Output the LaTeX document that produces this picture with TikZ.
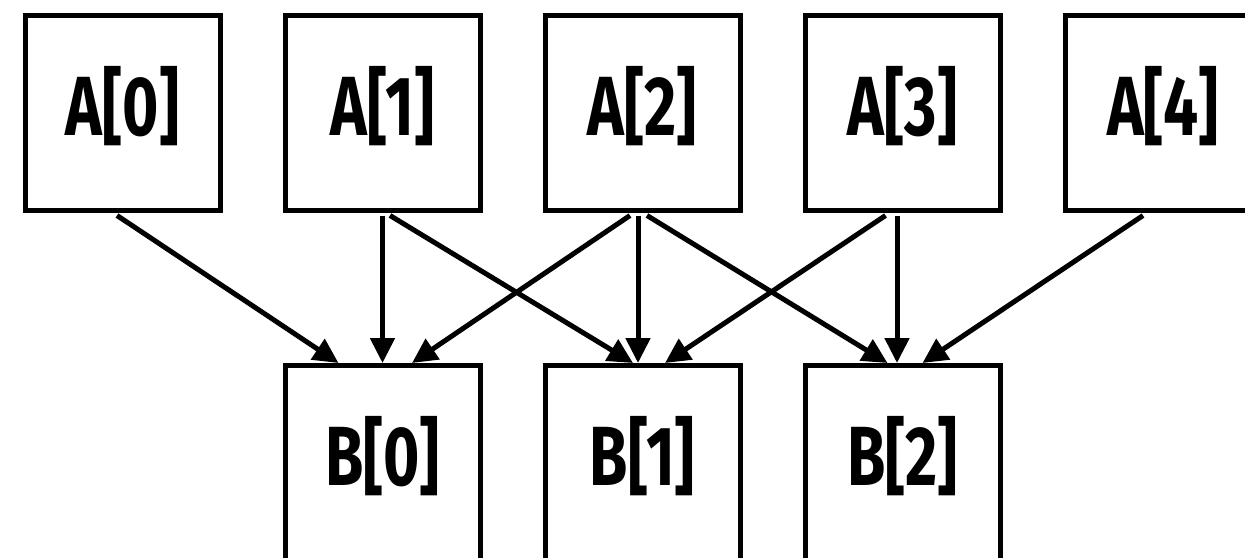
\documentclass[tikz,border=0pt]{standalone}
\usepackage{fontspec}
\newfontfamily\condfont[FakeStretch=0.74]{Fira Sans}
\usetikzlibrary{arrows.meta,calc}
\begin{document}
\begin{tikzpicture}[x=1pt,y=-1pt,
  box/.style={draw=black,line width=5pt,minimum width=195pt,minimum height=195pt,
    inner sep=0pt,text height=45pt,text depth=0pt,
    font=\condfont\bfseries\fontsize{84}{84}\selectfont},
  arr/.style={line width=5pt,-{Triangle[length=25pt,width=24pt]}}]
\useasboundingbox (0,0) rectangle (1245,557);
\clip (0,0) rectangle (1245,557);
\node[box] (A0) at (122.5,112.5) {A[0]};
\node[box] (A1) at (382.5,112.5) {A[1]};
\node[box] (A2) at (642.5,112.5) {A[2]};
\node[box] (A3) at (902.5,112.5) {A[3]};
\node[box] (A4) at (1163,112.5) {A[4]};
\node[box] (B0) at (382.5,463) {B[0]};
\node[box] (B1) at (642.5,463) {B[1]};
\node[box] (B2) at (902.5,463) {B[2]};
\draw[arr] ([xshift=-5.5pt,yshift=-3pt]A0.south) -- ([xshift=-44pt]B0.north);
\draw[arr] ([xshift=0pt,yshift=-3pt]A1.south) -- ([xshift=0pt]B0.north);
\draw[arr] ([xshift=7.5pt,yshift=-3pt]A1.south) -- ([xshift=-9.5pt]B1.north);
\draw[arr] ([xshift=-12.5pt,yshift=-3pt]A2.south) -- ([xshift=29.5pt]B0.north);
\draw[arr] ([xshift=-4.5pt,yshift=-3pt]A2.south) -- ([xshift=-4.5pt]B1.north);
\draw[arr] ([xshift=4.5pt,yshift=-3pt]A2.south) -- ([xshift=-15pt]B2.north);
\draw[arr] ([xshift=-17pt,yshift=-3pt]A3.south) -- ([xshift=22.5pt]B1.north);
\draw[arr] ([xshift=-5.5pt,yshift=-3pt]A3.south) -- ([xshift=-5.5pt]B2.north);
\draw[arr] ([xshift=-20pt,yshift=-3pt]A4.south) -- ([xshift=20pt]B2.north);
\end{tikzpicture}
\end{document}
